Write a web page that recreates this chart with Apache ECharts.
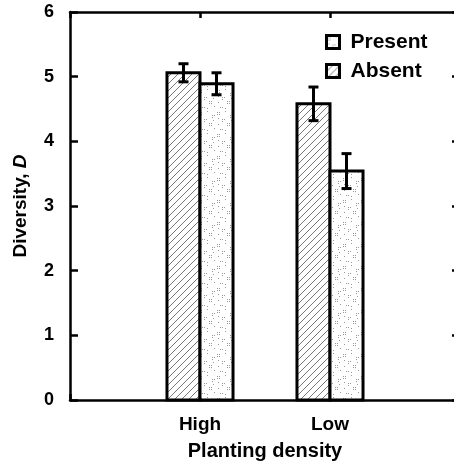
<!DOCTYPE html>
<html>
<head>
<meta charset="utf-8">
<script src="https://cdn.jsdelivr.net/npm/echarts@6/dist/echarts.min.js"></script>
<style>
html,body{margin:0;padding:0;background:#fff;}
#chart{width:454px;height:463px;}
</style>
</head>
<body>
<div id="chart"></div>
<script>
// ---- data ----
const categories = ['High', 'Low'];
const categoryPositions = [1, 2];
const absentMean = [5.06, 4.58];
const absentErr = [0.14, 0.26];
const presentMean = [4.89, 3.54];
const presentErr = [0.17, 0.27];
const yTicks = [0, 1, 2, 3, 4, 5, 6];
const legendNames = ['Present', 'Absent'];

// ---- patterns ----
function makeHatch() {
  const s = 7;
  const c = document.createElement('canvas');
  c.width = s; c.height = s;
  const g = c.getContext('2d');
  g.fillStyle = '#fff'; g.fillRect(0, 0, s, s);
  g.strokeStyle = '#6a6a6a'; g.lineWidth = 0.9;
  g.beginPath();
  g.moveTo(-1, s + 1); g.lineTo(s + 1, -1);
  g.moveTo(-1, 1); g.lineTo(1, -1);
  g.moveTo(s - 1, s + 1); g.lineTo(s + 1, s - 1);
  g.stroke();
  return c;
}
function makeStipple() {
  const c = document.createElement('canvas');
  c.width = 18; c.height = 22;
  const g = c.getContext('2d');
  g.fillStyle = '#fff'; g.fillRect(0, 0, 18, 22);
  const dots = [[1,2],[3,2],[1,4],[3,4],[9,1],[14,5],[16,5],[14,7],[6,9],[8,9],[6,11],[2,14],[11,13],[13,13],[11,15],[13,15],[16,18],[4,19],[6,19],[9,20],[15,10],[2,8]];
  g.fillStyle = '#999';
  dots.forEach(d => g.fillRect(d[0], d[1], 1, 1));
  return c;
}
const hatchPattern = { image: makeHatch(), repeat: 'repeat' };
const stipplePattern = { image: makeStipple(), repeat: 'repeat' };

const FONT = "'Liberation Sans', Arial, Helvetica, sans-serif";

function makeRender(side, fill) {
  return function (params, api) {
    const x = api.value(0), v = api.value(1), e = api.value(2);
    const bw = api.size([1, 0])[0] * 0.254;
    const c0 = api.coord([x, 0]);
    const c1 = api.coord([x, v]);
    const left = side < 0 ? c0[0] - bw : c0[0];
    const cx = left + bw / 2;
    const eTop = api.coord([x, v + e])[1];
    const eBot = api.coord([x, v - e])[1];
    const cap = 5;
    return {
      type: 'group',
      children: [
        { type: 'rect', shape: { x: left, y: c1[1], width: bw, height: c0[1] - c1[1] },
          style: { fill: fill, stroke: '#000', lineWidth: 3 } },
        { type: 'line', shape: { x1: cx, y1: eTop, x2: cx, y2: eBot }, style: { stroke: '#000', lineWidth: 3 } },
        { type: 'line', shape: { x1: cx - cap, y1: eTop, x2: cx + cap, y2: eTop }, style: { stroke: '#000', lineWidth: 3 } },
        { type: 'line', shape: { x1: cx - cap, y1: eBot, x2: cx + cap, y2: eBot }, style: { stroke: '#000', lineWidth: 3 } }
      ]
    };
  };
}

const absentData = categoryPositions.map((p, i) => [p, absentMean[i], absentErr[i]]);
const presentData = categoryPositions.map((p, i) => [p, presentMean[i], presentErr[i]]);

const chart = echarts.init(document.getElementById('chart'), null, { renderer: 'canvas' });
const axisLine = { show: true, onZero: false, lineStyle: { color: '#000', width: 2.5 } };
chart.setOption({
  animation: false,
  backgroundColor: '#fff',
  textStyle: { fontFamily: FONT },
  grid: { left: 70, right: -6, top: 12, bottom: 63, containLabel: false, outerBoundsMode: 'none' },
  legend: {
    orient: 'vertical', left: 325, top: 31, padding: 0,
    itemWidth: 13, itemHeight: 13, itemGap: 7,
    textStyle: { fontFamily: FONT, fontSize: 21, fontWeight: 'bold', color: '#000', lineHeight: 22, padding: [0, 0, 0, 6] },
    data: [
      { name: legendNames[0], icon: 'rect', itemStyle: { color: stipplePattern, borderColor: '#000', borderWidth: 3 } },
      { name: legendNames[1], icon: 'rect', itemStyle: { color: hatchPattern, borderColor: '#000', borderWidth: 3 } }
    ]
  },
  xAxis: [
    {
      type: 'value', min: 0, max: 3, interval: 1, position: 'bottom',
      axisLine: axisLine,
      axisTick: { show: true, inside: true, length: 6, lineStyle: { color: '#000', width: 2.5 } },
      splitLine: { show: false },
      axisLabel: {
        margin: 15, color: '#000', fontFamily: FONT, fontSize: 19, fontWeight: 'bold',
        formatter: v => { const i = categoryPositions.indexOf(v); return i >= 0 ? categories[i] : ''; }
      },
      name: 'Planting density', nameLocation: 'middle', nameGap: 41,
      nameTextStyle: { color: '#000', fontFamily: FONT, fontSize: 20, fontWeight: 'bold' }
    },
    {
      type: 'value', min: 0, max: 3, interval: 1, position: 'top',
      axisLine: axisLine,
      axisTick: { show: true, inside: true, length: 6, lineStyle: { color: '#000', width: 2.5 } },
      splitLine: { show: false }, axisLabel: { show: false }
    }
  ],
  yAxis: [
    {
      type: 'value', min: 0, max: 6, interval: 1, position: 'left',
      axisLine: axisLine,
      axisTick: { show: true, inside: true, length: 8, lineStyle: { color: '#000', width: 2.5 } },
      splitLine: { show: false },
      axisLabel: { margin: 16, color: '#000', fontFamily: FONT, fontSize: 18, fontWeight: 'bold',
        formatter: v => yTicks.indexOf(v) >= 0 ? String(v) : '' },
      name: 'Diversity, {i|D}', nameLocation: 'middle', nameGap: 40, nameRotate: 90,
      nameTextStyle: { color: '#000', fontFamily: FONT, fontSize: 19, fontWeight: 'bold',
        rich: { i: { fontFamily: FONT, fontSize: 19, fontWeight: 'bold', fontStyle: 'italic', color: '#000' } } }
    },
    {
      type: 'value', min: 0, max: 6, interval: 1, position: 'right',
      axisLine: axisLine,
      axisTick: { show: true, inside: true, length: 8, lineStyle: { color: '#000', width: 2.5 } },
      splitLine: { show: false }, axisLabel: { show: false }
    }
  ],
  series: [
    {
      name: 'Absent', type: 'custom', xAxisIndex: 0, yAxisIndex: 0,
      itemStyle: { color: hatchPattern, borderColor: '#000', borderWidth: 2.5 },
      renderItem: makeRender(-1, hatchPattern), data: absentData, z: 3
    },
    {
      name: 'Present', type: 'custom', xAxisIndex: 0, yAxisIndex: 0,
      itemStyle: { color: stipplePattern, borderColor: '#000', borderWidth: 2.5 },
      renderItem: makeRender(1, stipplePattern), data: presentData, z: 3
    }
  ]
});
</script>
</body>
</html>
